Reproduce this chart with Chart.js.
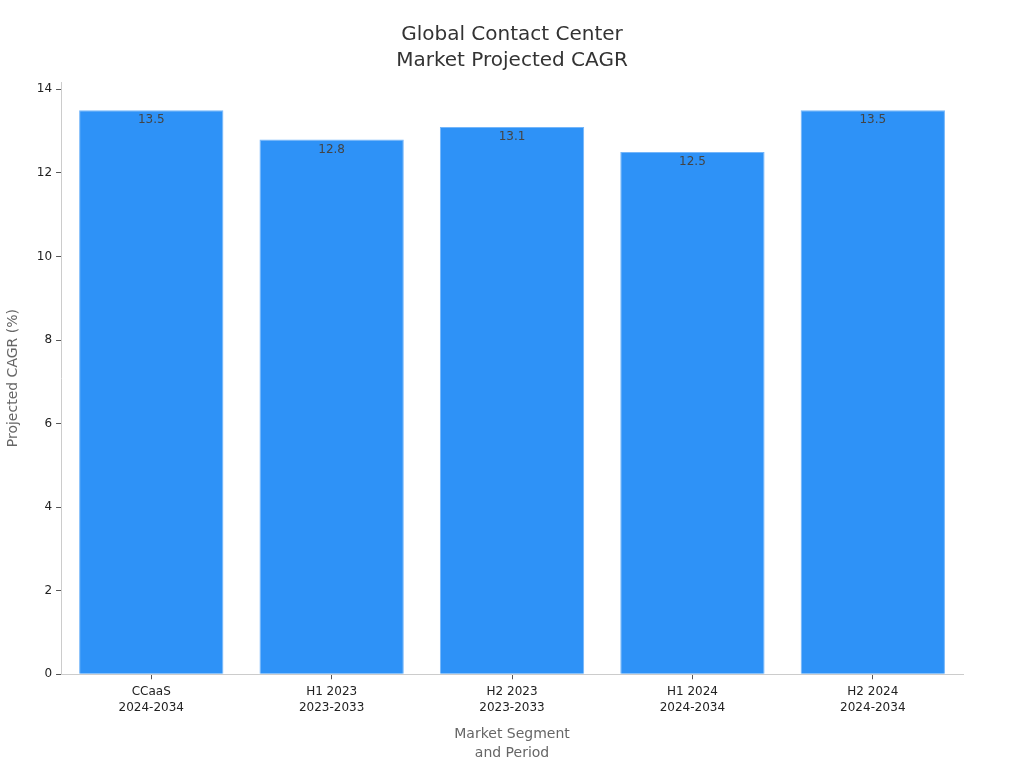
<!DOCTYPE html>
<html>
<head>
<meta charset="utf-8">
<script src="https://cdn.jsdelivr.net/npm/chart.js@4"></script>
<style>
  html, body { margin: 0; padding: 0; background: #fff; }
  #wrap { width: 1024px; height: 768px; }
</style>
</head>
<body>
<div id="wrap"><canvas id="cagr-chart" width="1024" height="768"></canvas></div>
<script>
// data
const categories = [
    ['CCaaS', '2024-2034'],
    ['H1 2023', '2023-2033'],
    ['H2 2023', '2023-2033'],
    ['H1 2024', '2024-2034'],
    ['H2 2024', '2024-2034']
];
const cagr_values = [13.5, 12.8, 13.1, 12.5, 13.5];
const y_ticks = [0, 2, 4, 6, 8, 10, 12, 14];

const font_family = "'DejaVu Sans', 'Noto Sans', sans-serif";

// value labels drawn just inside the top of each bar
const bar_labels = {
    id: 'bar_labels',
    afterDatasetsDraw(chart) {
        const ctx = chart.ctx;
        const meta = chart.getDatasetMeta(0);
        ctx.save();
        ctx.font = '12px ' + font_family;
        ctx.fillStyle = '#444';
        ctx.textAlign = 'center';
        ctx.textBaseline = 'middle';
        meta.data.forEach((bar, i) => {
            ctx.fillText(cagr_values[i].toFixed(1), bar.x, bar.y + 10);
        });
        ctx.restore();
    }
};

const canvas = document.getElementById('cagr-chart');
new Chart(canvas, {
    type: 'bar',
    data: {
        labels: categories,
        datasets: [{
            data: cagr_values,
            backgroundColor: '#2e92f7',
            borderColor: '#74b6fa',
            borderWidth: 1,
            barPercentage: 0.8,
            categoryPercentage: 1.0
        }]
    },
    plugins: [bar_labels],
    options: {
        responsive: false,
        animation: false,
        devicePixelRatio: 1,
        layout: {
            padding: { top: 0, right: 0, bottom: 5, left: 0 }
        },
        plugins: {
            legend: { display: false },
            tooltip: { enabled: false },
            title: {
                display: true,
                text: ['Global Contact Center', 'Market Projected CAGR'],
                color: '#333',
                font: { family: font_family, size: 20, weight: 'normal', lineHeight: 1.3 },
                padding: { top: 22, bottom: 8 }
            }
        },
        scales: {
            x: {
                grid: { drawOnChartArea: false, drawTicks: true, tickLength: 5, color: '#555', offset: false },
                border: { display: true, color: '#ccc' },
                ticks: {
                    color: '#222',
                    padding: 5,
                    maxRotation: 0,
                    font: { family: font_family, size: 12, lineHeight: 1.33 }
                },
                title: {
                    display: true,
                    text: ['Market Segment', 'and Period'],
                    color: '#666',
                    font: { family: font_family, size: 14, lineHeight: 1.35 },
                    padding: { top: 4, bottom: 0 }
                }
            },
            y: {
                min: 0,
                max: 14.175,
                grid: { drawOnChartArea: false, drawTicks: true, tickLength: 5, color: '#555' },
                border: { display: true, color: '#ccc' },
                afterBuildTicks: (axis) => {
                    axis.ticks = y_ticks.map(v => ({ value: v }));
                },
                ticks: {
                    color: '#222',
                    padding: 4,
                    font: { family: font_family, size: 12 }
                },
                title: {
                    display: true,
                    text: 'Projected CAGR (%)',
                    color: '#666',
                    font: { family: font_family, size: 14 },
                    padding: { top: 5, bottom: 11 }
                }
            },
            // empty right axis, only reserves the right margin so the title stays centred on the canvas
            spacer: {
                type: 'linear',
                position: 'right',
                display: true,
                grid: { display: false },
                border: { display: false },
                ticks: { display: false },
                afterFit: (axis) => { axis.width = 61; }
            }
        }
    }
});
</script>
</body>
</html>
